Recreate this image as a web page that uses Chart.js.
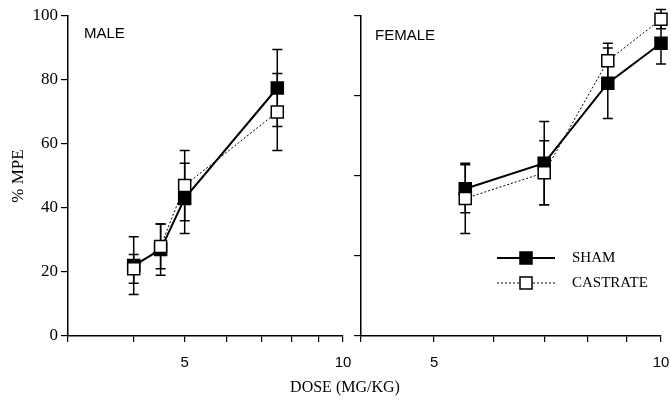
<!DOCTYPE html>
<html>
<head>
<meta charset="utf-8">
<script src="https://cdn.jsdelivr.net/npm/chart.js@4"></script>
<style>
  body { margin: 0; background: #fff; }
  #wrap { position: relative; width: 671px; height: 405px; }
  canvas { position: absolute; top: 0; }
  #xtitle { position: absolute; left: 0; width: 690px; top: 378px; text-align: center;
    font: 16px 'Liberation Serif', serif; color: #000; }
</style>
</head>
<body>
<div id="wrap">
  <canvas id="male" width="352" height="405" style="left:0"></canvas>
  <canvas id="female" width="321" height="405" style="left:350px"></canvas>
  <div id="xtitle">DOSE (MG/KG)</div>
</div>
<script>
// dose levels (mg/kg) for each panel
const maleDose = [4, 4.5, 5, 7.5];
const femaleDose = [5.5, 7, 8.5, 10];

// % MPE means and error half-widths
const maleSham = [22, 27, 43, 77.5];
const maleShamErr = [9, 8, 11, 12];
const maleCastrate = [21, 28, 47, 70];
const maleCastrateErr = [4.5, 7, 11, 12];

const femaleSham = [46, 54, 79, 91.5];
const femaleShamErr = [7.5, 13, 11, 6.5];
const femaleCastrate = [43, 51, 86, 99];
const femaleCastrateErr = [11, 10, 5.5, 3];

// axis ticks
const maleXTicks = [3, 4, 5, 6, 7, 8, 9, 10];
const femaleXTicks = [4, 5, 6, 7, 8, 9, 10];
const xLabels = [5, 10];
const maleYTicks = [0, 20, 40, 60, 80, 100];
const femaleYTicks = [0, 25, 50, 75, 100];

const serif = "'Liberation Serif', 'Times New Roman', serif";
const sans = "'Liberation Sans', Arial, sans-serif";

// draw vertical error bars with caps, using the chart scales
const errorBars = {
  id: 'errorBars',
  beforeDatasetsDraw(chart) {
    const ctx = chart.ctx;
    const xs = chart.scales.x, ys = chart.scales.y;
    ctx.save();
    ctx.strokeStyle = '#000';
    ctx.lineWidth = 1.5;
    chart.data.datasets.forEach(ds => {
      ds.data.forEach((p, i) => {
        const e = ds.err[i];
        const px = xs.getPixelForValue(p.x);
        const top = ys.getPixelForValue(p.y + e);
        const bot = ys.getPixelForValue(p.y - e);
        ctx.beginPath();
        ctx.moveTo(px, top); ctx.lineTo(px, bot);
        ctx.moveTo(px - 5, top); ctx.lineTo(px + 5, top);
        ctx.moveTo(px - 5, bot); ctx.lineTo(px + 5, bot);
        ctx.stroke();
      });
    });
    ctx.restore();
  }
};

// panel title (MALE / FEMALE) and optional legend
const panelText = {
  id: 'panelText',
  afterDraw(chart, args, opts) {
    const ctx = chart.ctx, a = chart.chartArea;
    ctx.save();
    ctx.fillStyle = '#000';
    ctx.font = '15px ' + sans;
    ctx.textBaseline = 'middle';
    ctx.fillText(opts.title, a.left + opts.titleDx, a.top + opts.titleDy);
    if (opts.legend) {
      chart.data.datasets.forEach((ds, i) => {
        const ly = a.top + 242 + i * 25;
        const lx = a.left + 136;
        ctx.strokeStyle = '#000';
        ctx.lineWidth = ds.borderWidth;
        ctx.setLineDash(ds.borderDash || []);
        ctx.beginPath(); ctx.moveTo(lx, ly); ctx.lineTo(lx + 58, ly); ctx.stroke();
        ctx.setLineDash([]);
        ctx.lineWidth = 1.5;
        ctx.fillStyle = ds.pointBackgroundColor;
        ctx.fillRect(lx + 23, ly - 6, 12, 12);
        ctx.strokeRect(lx + 23, ly - 6, 12, 12);
        ctx.fillStyle = '#000';
        ctx.font = '15px ' + serif;
        ctx.fillText(ds.label, lx + 75, ly);
      });
    }
    ctx.restore();
  }
};

function series(dose, vals) {
  return dose.map((d, i) => ({ x: d, y: vals[i] }));
}

function makePanel(id, cfg) {
  const datasets = [
    {
      label: 'SHAM',
      data: series(cfg.dose, cfg.sham),
      err: cfg.shamErr,
      borderColor: '#000',
      borderWidth: 2,
      pointStyle: 'rect',
      pointRadius: 8.5,
      pointBackgroundColor: '#000',
      pointBorderColor: '#000',
      pointBorderWidth: 1.5,
      clip: false,
      order: 2
    },
    {
      label: 'CASTRATE',
      data: series(cfg.dose, cfg.castrate),
      err: cfg.castrateErr,
      borderColor: '#000',
      borderWidth: 1,
      borderDash: [2, 2],
      pointStyle: 'rect',
      pointRadius: 8.5,
      pointBackgroundColor: '#fff',
      pointBorderColor: '#000',
      pointBorderWidth: 1.5,
      clip: false,
      order: 1
    }
  ];
  return new Chart(document.getElementById(id), {
    type: 'line',
    data: { datasets },
    plugins: [errorBars, panelText],
    options: {
      responsive: false,
      animation: false,
      devicePixelRatio: 1,
      layout: { autoPadding: false, padding: { top: 16, right: cfg.padRight, left: 0, bottom: 0 } },
      plugins: {
        legend: { display: false },
        tooltip: { enabled: false },
        panelText: { title: cfg.title, titleDx: cfg.titleDx, titleDy: cfg.titleDy, legend: cfg.legend }
      },
      scales: {
        x: {
          type: 'logarithmic',
          min: cfg.xMin, max: 10,
          afterBuildTicks: s => { s.ticks = cfg.xTicks.map(v => ({ value: v })); },
          afterFit: s => { s.height = 69; s.paddingLeft = 0; s.paddingRight = 0; },
          grid: { drawOnChartArea: false, tickLength: 6, color: '#000', lineWidth: 1.2 },
          border: { color: '#000', width: 1.5 },
          ticks: {
            autoSkip: false, maxRotation: 0, padding: 12, color: '#000',
            font: { family: sans, size: 15 },
            callback: v => xLabels.includes(v) ? String(v) : ''
          }
        },
        y: {
          min: 0, max: 100,
          afterBuildTicks: s => { s.ticks = cfg.yTicks.map(v => ({ value: v })); },
          afterFit: s => { s.width = cfg.yWidth; s.paddingTop = 0; s.paddingBottom = 0; },
          grid: { drawOnChartArea: false, tickLength: 7, color: '#000', lineWidth: 1.2 },
          border: { color: '#000', width: 1.5 },
          title: {
            display: cfg.yTitle, text: '% MPE', color: '#000',
            font: { family: serif, size: 17 }, padding: { top: 8, bottom: 0 }
          },
          ticks: {
            padding: 3, color: '#000',
            font: { family: serif, size: 17 },
            callback: v => cfg.yLabels ? String(v) : ''
          }
        }
      }
    }
  });
}

makePanel('male', {
  dose: maleDose, sham: maleSham, shamErr: maleShamErr,
  castrate: maleCastrate, castrateErr: maleCastrateErr,
  xMin: 3, xTicks: maleXTicks, yTicks: maleYTicks,
  yWidth: 68, padRight: 9, yLabels: true, yTitle: true,
  title: 'MALE', titleDx: 16, titleDy: 18, legend: false
});

makePanel('female', {
  dose: femaleDose, sham: femaleSham, shamErr: femaleShamErr,
  castrate: femaleCastrate, castrateErr: femaleCastrateErr,
  xMin: 4, xTicks: femaleXTicks, yTicks: femaleYTicks,
  yWidth: 11, padRight: 10, yLabels: false, yTitle: false,
  title: 'FEMALE', titleDx: 14, titleDy: 20, legend: true
});
</script>
</body>
</html>
